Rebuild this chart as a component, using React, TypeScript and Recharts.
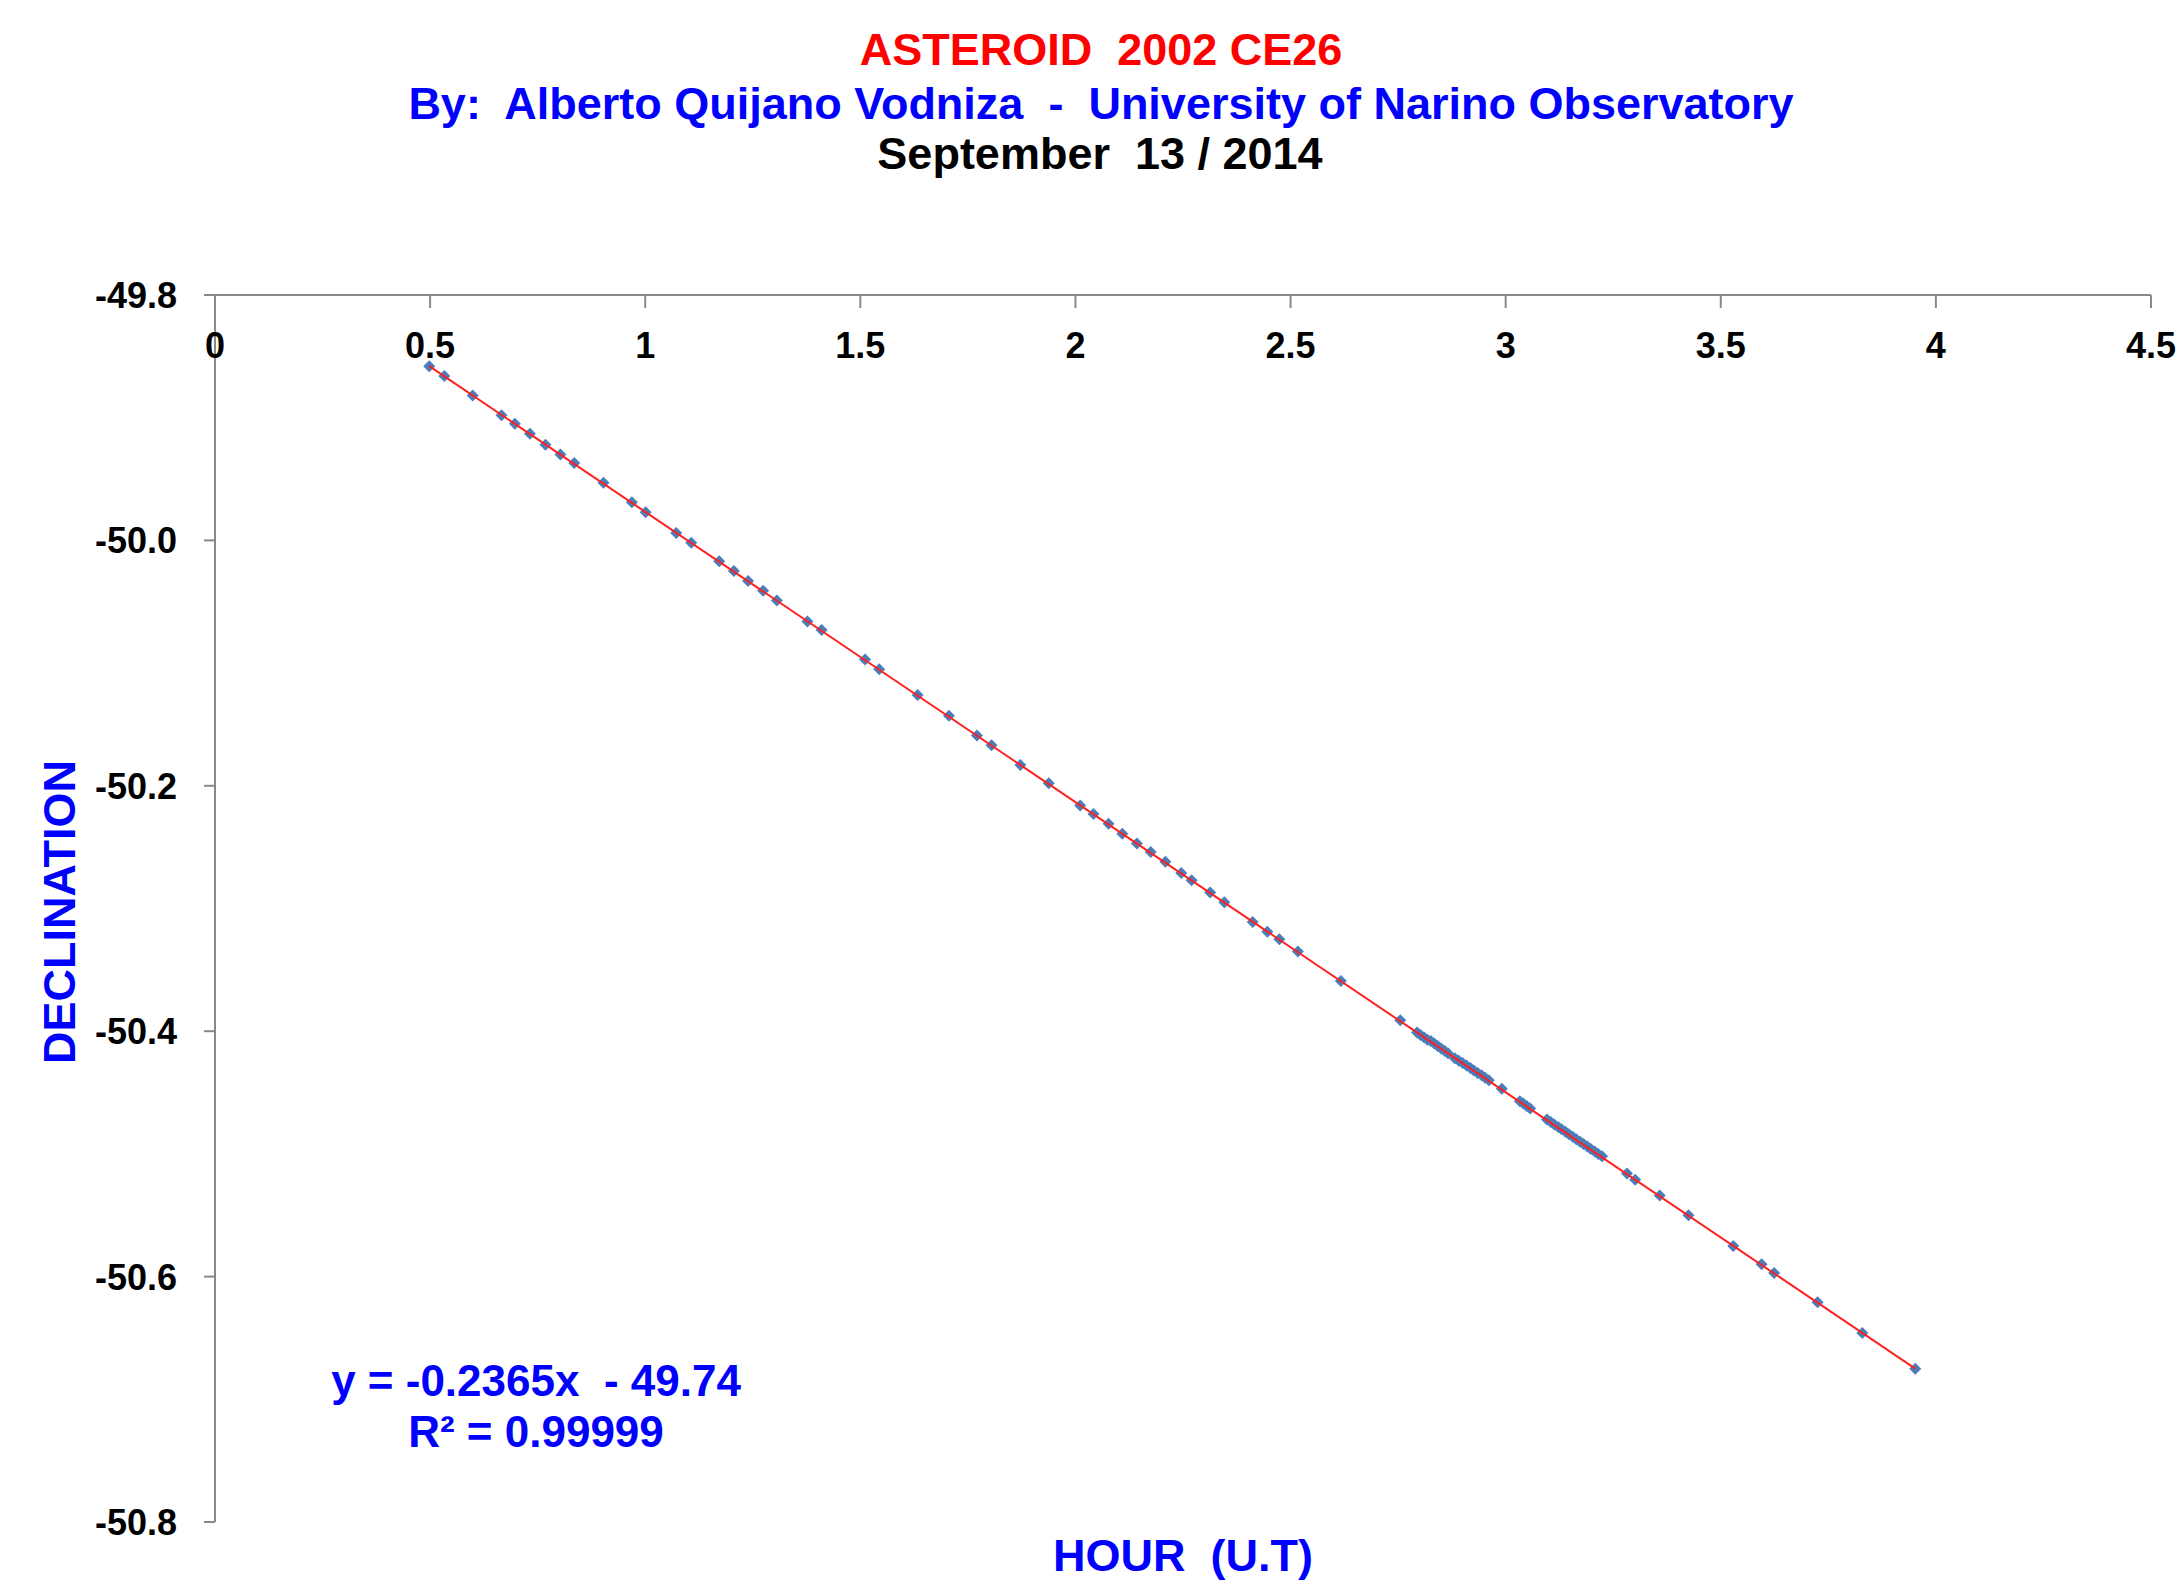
import { ScatterChart, Scatter, XAxis, YAxis } from "recharts";

// hours (U.T)
const hours = [
  0.498, 0.533, 0.599, 0.666, 0.697, 0.732, 0.768, 0.803, 0.835, 0.903,
  0.969, 1.001, 1.072, 1.107, 1.172, 1.206, 1.239, 1.274, 1.306, 1.377,
  1.410, 1.511, 1.544, 1.633, 1.706, 1.771, 1.805, 1.872, 1.938, 2.011,
  2.042, 2.077, 2.109, 2.143, 2.175, 2.209, 2.246, 2.270, 2.313, 2.346,
  2.412, 2.446, 2.474, 2.517, 2.617, 2.755,
  2.794, 2.802, 2.810, 2.818, 2.826, 2.834, 2.842, 2.850, 2.858, 2.866,
  2.882, 2.891, 2.900, 2.909, 2.918, 2.926, 2.935, 2.944, 2.952, 2.961,
  2.991, 3.033, 3.041, 3.049, 3.057,
  3.096, 3.105, 3.113, 3.122, 3.130, 3.139, 3.147, 3.156, 3.164, 3.173,
  3.181, 3.190, 3.198, 3.207, 3.215, 3.224,
  3.282, 3.301, 3.358, 3.425, 3.529, 3.595, 3.624, 3.725, 3.829, 3.952,
];

// declination for each hour
const declination = [
  -49.858, -49.866, -49.882, -49.898, -49.905, -49.913, -49.922, -49.930, -49.937, -49.953,
  -49.969, -49.977, -49.994, -50.002, -50.017, -50.025, -50.033, -50.041, -50.049, -50.066,
  -50.073, -50.097, -50.105, -50.126, -50.143, -50.159, -50.167, -50.183, -50.198, -50.216,
  -50.223, -50.231, -50.239, -50.247, -50.254, -50.262, -50.271, -50.277, -50.287, -50.295,
  -50.311, -50.319, -50.325, -50.335, -50.359, -50.391,
  -50.401, -50.403, -50.405, -50.407, -50.408, -50.410, -50.412, -50.414, -50.416, -50.418,
  -50.422, -50.424, -50.426, -50.428, -50.430, -50.432, -50.434, -50.436, -50.438, -50.440,
  -50.447, -50.457, -50.459, -50.461, -50.463,
  -50.472, -50.474, -50.476, -50.478, -50.480, -50.482, -50.484, -50.486, -50.488, -50.490,
  -50.492, -50.494, -50.496, -50.498, -50.500, -50.502,
  -50.516, -50.521, -50.534, -50.550, -50.575, -50.590, -50.597, -50.621, -50.646, -50.675,
];

// linear trendline ends
const trendHours = [0.498, 3.952];
const trendDeclination = [-49.858, -50.675];

const xTicks = [0, 0.5, 1, 1.5, 2, 2.5, 3, 3.5, 4, 4.5];
const yTicks = [-50.8, -50.6, -50.4, -50.2, -50.0, -49.8];

const points = hours.map((x, i) => ({ x, y: declination[i] }));
const trend = trendHours.map((x, i) => ({ x, y: trendDeclination[i] }));

const FONT = "'Liberation Sans', Arial, sans-serif";
const AXIS = "#898989";

const XTick = ({ x, y, payload }: any) => (
  <g>
    <line x1={x} y1={y} x2={x} y2={y + 13} stroke={AXIS} strokeWidth={2} />
    <text x={x} y={y + 63} textAnchor="middle" fontSize={36} fontWeight="bold" fontFamily={FONT} fill="#000">
      {payload.value}
    </text>
  </g>
);

const YTick = ({ x, y, payload }: any) => (
  <text x={x} y={y + 13} textAnchor="end" fontSize={36} fontWeight="bold" fontFamily={FONT} fill="#000">
    {Number(payload.value).toFixed(1)}
  </text>
);

const Diamond = ({ cx, cy }: any) => {
  const r = 6;
  return <polygon points={`${cx},${cy - r} ${cx + r},${cy} ${cx},${cy + r} ${cx - r},${cy}`} fill="#4A7EBB" />;
};

const pre = { whiteSpace: "pre" as const };

export default function App() {
  return (
    <div style={{ position: "absolute", left: 0, top: 0, width: 2183, height: 1590, background: "#fff" }}>
      <ScatterChart width={2183} height={1590} margin={{ top: 235, right: 32, bottom: 68, left: 115 }}>
        <XAxis
          type="number"
          dataKey="x"
          orientation="top"
          domain={[0, 4.5]}
          ticks={xTicks}
          interval={0}
          height={60}
          tickSize={0}
          tickMargin={0}
          tickLine={false}
          axisLine={{ stroke: AXIS, strokeWidth: 2 }}
          tick={<XTick />}
        />
        <YAxis
          type="number"
          dataKey="y"
          domain={[-50.8, -49.8]}
          ticks={yTicks}
          interval={0}
          width={100}
          tickSize={11}
          tickMargin={27}
          tickLine={{ stroke: AXIS, strokeWidth: 2 }}
          axisLine={{ stroke: AXIS, strokeWidth: 2 }}
          tick={<YTick />}
        />
        <Scatter data={points} shape={<Diamond />} isAnimationActive={false} />
        <Scatter
          data={trend}
          line={{ stroke: "#FF2020", strokeWidth: 2 }}
          shape={() => <g />}
          isAnimationActive={false}
        />
      </ScatterChart>
      <svg width={2183} height={1590} style={{ position: "absolute", left: 0, top: 0, pointerEvents: "none" }}>
        <g fontFamily={FONT} fontWeight="bold" fontSize={45} textAnchor="middle">
          <text x={1101} y={65} fill="#FF0000" xmlSpace="preserve" style={pre}>{"ASTEROID  2002 CE26"}</text>
          <text x={1101} y={119} fill="#0000FF" xmlSpace="preserve" style={pre}>
            {"By:  Alberto Quijano Vodniza  -  University of Narino Observatory"}
          </text>
          <text x={1100} y={169} fill="#000000" xmlSpace="preserve" style={pre}>{"September  13 / 2014"}</text>
          <text x={1183} y={1571} fill="#0000FF" xmlSpace="preserve" style={pre}>{"HOUR  (U.T)"}</text>
          <text x={75} y={912} fill="#0000FF" transform="rotate(-90, 75, 912)">DECLINATION</text>
          <text x={536} y={1396} fontSize={44} fill="#0000FF" xmlSpace="preserve" style={pre}>
            {"y = -0.2365x  - 49.74"}
          </text>
          <text x={536} y={1447} fontSize={44} fill="#0000FF">R² = 0.99999</text>
        </g>
      </svg>
    </div>
  );
}
